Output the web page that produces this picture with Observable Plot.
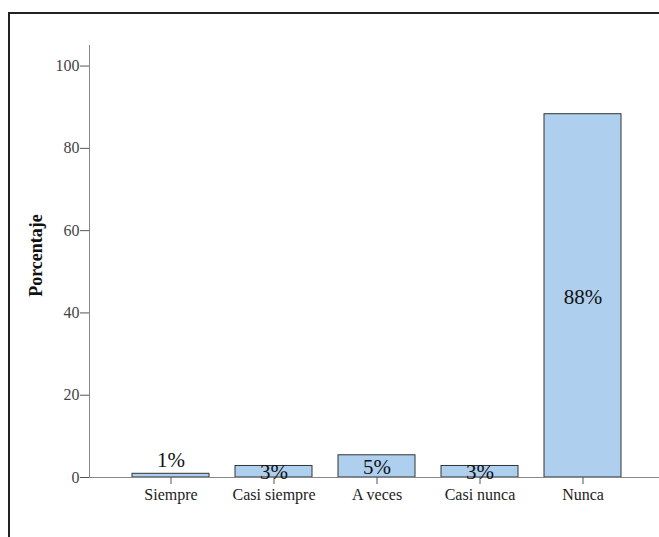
<!DOCTYPE html>
<html>
<head>
<meta charset="utf-8">
<script src="https://cdn.jsdelivr.net/npm/d3@7"></script>
<script src="https://cdn.jsdelivr.net/npm/@observablehq/plot@0.6"></script>
<style>
  html, body { margin: 0; padding: 0; background: #fff; }
  #wrap { position: relative; width: 659px; height: 537px; overflow: hidden; }
  #border { position: absolute; left: 8px; top: 12px; width: 700px; height: 600px;
            border-left: 2px solid #222; border-top: 2px solid #222; box-sizing: border-box; }
  #chart { position: absolute; left: 0; top: 0; }
  #chart svg, #chart svg text, #chart svg g { font-family: 'Liberation Serif', 'Times New Roman', serif !important; }
</style>
</head>
<body>
<div id="wrap"><div id="border"></div><div id="chart"></div></div>
<script>
const categories = ["Siempre", "Casi siempre", "A veces", "Casi nunca", "Nunca"];
const values = [0.9, 2.8, 5.4, 2.8, 88.3];
const labels = ["1%", "3%", "5%", "3%", "88%"];
const yTicks = [0, 20, 40, 60, 80, 100];
const yLabel = "Porcentaje";

const data = categories.map((c, i) => ({cat: c, value: values[i], label: labels[i]}));
const small = data.filter(d => d.value < 2);
const rest = data.filter(d => d.value >= 2);

const W = 659, H = 537, ML = 89, MR = 0, MT = 45, MB = 60;
const PI = 0.248, PO = 0.371, AL = 0.54;
const serif = "'Liberation Serif', 'Times New Roman', serif";

const chart = Plot.plot({
  width: W,
  height: H,
  marginLeft: ML,
  marginRight: MR,
  marginTop: MT,
  marginBottom: MB,
  style: {fontFamily: serif, background: "transparent"},
  x: {domain: categories, paddingInner: PI, paddingOuter: PO, align: AL, label: null},
  y: {domain: [0, 105], label: null},
  marks: [
    Plot.barY(data, {x: "cat", y: "value", fill: "#AECFEE", stroke: "#333", strokeWidth: 1}),
    Plot.frame({anchor: "left", stroke: "#888"}),
    Plot.ruleY([0], {stroke: "#888"}),
    Plot.axisY({ticks: yTicks, tickSize: 9, tickPadding: 1, fontSize: 16, fontFamily: serif, stroke: "#555", fill: "#444", label: null}),
    Plot.axisX({tickSize: 7, tickPadding: 4, fontSize: 16, fontFamily: serif, stroke: "#555", fill: "#222", label: null}),
    Plot.text(rest, {
      x: "cat",
      y: d => d.value / 2,
      dy: 1,
      text: "label",
      fontSize: 21,
      fontFamily: serif,
      fill: "#111"
    }),
    Plot.text(small, {
      x: "cat",
      y: "value",
      dy: -14,
      text: "label",
      fontSize: 21,
      fontFamily: serif,
      fill: "#111"
    }),
    Plot.text([yLabel], {
      frameAnchor: "left",
      textAnchor: "middle",
      dx: -53,
      dy: -6,
      rotate: -90,
      text: d => d,
      fontSize: 18,
      fontFamily: serif,
      fontWeight: "bold",
      fill: "#111"
    })
  ]
});
document.getElementById("chart").appendChild(chart);
</script>
</body>
</html>
